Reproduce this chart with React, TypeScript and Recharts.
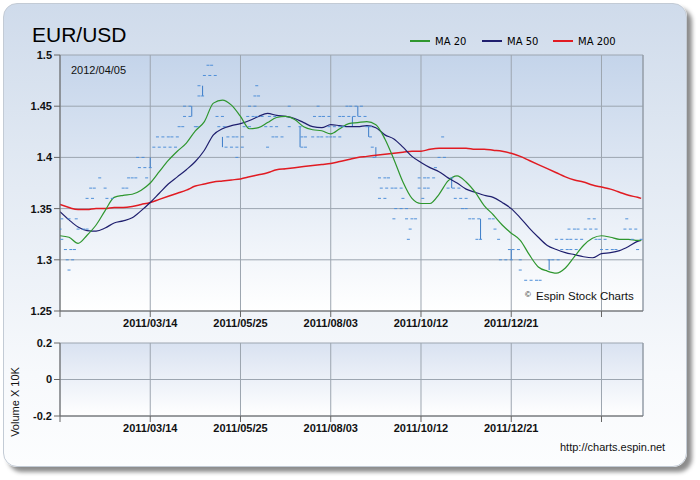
import React from 'react';
import { ComposedChart, Line, Scatter, ErrorBar, XAxis, YAxis, CartesianGrid, ReferenceLine } from 'recharts';

// trading-day index (0 = 2011/01/03), one sample every 5 days
const days = [0, 5, 10, 15, 20, 25, 30, 35, 40, 45, 50, 55, 60, 65, 70, 75, 80, 85, 90, 95, 100, 105, 110, 115, 120, 125, 130, 135, 140, 145, 150, 155, 160, 165, 170, 175, 180, 185, 190, 195, 200, 205, 210, 215, 220, 225, 230, 235, 240, 245, 250, 255, 260, 265, 270, 275, 280, 285, 290, 295, 300, 305, 310, 315, 320, 322];
const ma20 = [1.3235, 1.322, 1.316, 1.324, 1.334, 1.348, 1.361, 1.363, 1.364, 1.368, 1.375, 1.386, 1.397, 1.406, 1.414, 1.426, 1.435, 1.453, 1.456, 1.451, 1.44, 1.428, 1.429, 1.434, 1.439, 1.44, 1.437, 1.43, 1.427, 1.426, 1.423, 1.428, 1.433, 1.434, 1.435, 1.432, 1.418, 1.398, 1.376, 1.36, 1.355, 1.355, 1.364, 1.377, 1.382, 1.376, 1.366, 1.353, 1.344, 1.334, 1.326, 1.319, 1.305, 1.293, 1.289, 1.287, 1.292, 1.303, 1.314, 1.321, 1.3235, 1.322, 1.32, 1.32, 1.319, 1.319];
const ma50 = [1.347, 1.339, 1.332, 1.3285, 1.328, 1.331, 1.336, 1.338, 1.341, 1.348, 1.356, 1.365, 1.374, 1.381, 1.388, 1.396, 1.407, 1.422, 1.428, 1.431, 1.433, 1.436, 1.44, 1.443, 1.441, 1.44, 1.438, 1.434, 1.43, 1.429, 1.432, 1.431, 1.43, 1.43, 1.431, 1.429, 1.422, 1.418, 1.41, 1.401, 1.395, 1.39, 1.386, 1.38, 1.375, 1.369, 1.366, 1.363, 1.361, 1.356, 1.35, 1.341, 1.331, 1.322, 1.314, 1.31, 1.307, 1.305, 1.303, 1.302, 1.306, 1.307, 1.309, 1.313, 1.318, 1.319];
const ma200 = [1.354, 1.351, 1.349, 1.349, 1.35, 1.35, 1.351, 1.351, 1.352, 1.354, 1.356, 1.359, 1.362, 1.365, 1.368, 1.372, 1.374, 1.376, 1.377, 1.378, 1.379, 1.381, 1.383, 1.385, 1.388, 1.389, 1.39, 1.391, 1.392, 1.393, 1.394, 1.396, 1.398, 1.4, 1.401, 1.402, 1.403, 1.404, 1.405, 1.406, 1.406, 1.408, 1.409, 1.409, 1.409, 1.409, 1.408, 1.408, 1.407, 1.406, 1.404, 1.401, 1.397, 1.393, 1.389, 1.385, 1.381, 1.378, 1.376, 1.373, 1.371, 1.369, 1.366, 1.363, 1.361, 1.36];

// daily price ticks [day, price]
const priceMarks: [number, number][] = [
  [1, 1.34], [5, 1.34], [9, 1.34], [0, 1.33], [1, 1.32], [3, 1.31], [6, 1.31], [8, 1.31], [4, 1.3], [7, 1.3], [5, 1.29],
  [10, 1.33], [13, 1.33], [15, 1.33], [15, 1.36], [18, 1.36], [17, 1.37], [19, 1.37], [22, 1.38], [25, 1.37], [26, 1.36], [29, 1.36],
  [35, 1.37], [37, 1.37], [38, 1.38], [40, 1.38], [42, 1.38], [44, 1.39], [47, 1.39], [43, 1.4], [46, 1.4], [48, 1.38], [50, 1.39],
  [52, 1.41], [55, 1.41], [58, 1.41], [61, 1.41], [64, 1.41], [54, 1.42], [57, 1.42], [60, 1.42], [62, 1.42], [65, 1.42],
  [66, 1.43], [68, 1.43], [69, 1.44], [72, 1.44], [69, 1.45], [72, 1.45], [75, 1.43], [76, 1.43], [77, 1.46], [79, 1.46],
  [77, 1.47], [80, 1.48], [83, 1.48], [86, 1.48], [82, 1.49], [84, 1.49],
  [87, 1.44], [90, 1.44], [88, 1.43], [91, 1.43], [93, 1.42], [96, 1.42], [98, 1.42], [101, 1.42], [92, 1.41], [95, 1.41], [98, 1.41], [101, 1.41], [98, 1.4],
  [102, 1.43], [105, 1.43], [104, 1.44], [107, 1.44], [109, 1.44], [112, 1.44], [105, 1.45], [108, 1.45], [108, 1.46], [110, 1.46], [109, 1.47],
  [114, 1.43], [117, 1.43], [120, 1.43], [116, 1.44], [119, 1.44], [115, 1.41], [118, 1.42], [120, 1.42], [123, 1.42], [127, 1.45], [127, 1.43],
  [133, 1.43], [134, 1.42], [136, 1.42], [134, 1.41], [136, 1.41],
  [141, 1.44], [144, 1.44], [146, 1.44], [149, 1.44], [143, 1.45], [140, 1.42], [143, 1.42], [145, 1.42], [148, 1.42],
  [149, 1.43], [152, 1.43], [155, 1.43], [157, 1.43], [150, 1.42], [152, 1.42], [155, 1.42], [155, 1.44], [157, 1.44],
  [160, 1.44], [163, 1.44], [166, 1.44], [169, 1.44], [159, 1.45], [161, 1.45], [164, 1.45], [167, 1.45],
  [170, 1.43], [172, 1.43], [172, 1.42], [173, 1.41], [174, 1.4],
  [177, 1.38], [180, 1.38], [182, 1.38], [178, 1.37], [181, 1.37], [184, 1.37], [186, 1.37], [189, 1.37], [177, 1.36], [180, 1.36], [190, 1.36],
  [186, 1.35], [189, 1.35], [192, 1.35], [185, 1.34], [192, 1.34], [195, 1.34], [197, 1.34], [194, 1.33], [193, 1.32],
  [199, 1.38], [202, 1.38], [204, 1.38], [207, 1.38], [199, 1.37], [202, 1.37], [204, 1.37], [201, 1.36], [208, 1.39], [210, 1.4], [213, 1.4], [212, 1.42],
  [215, 1.37], [218, 1.37], [221, 1.37], [217, 1.38], [219, 1.36], [222, 1.36], [225, 1.36], [223, 1.35], [225, 1.35],
  [227, 1.34], [229, 1.34], [232, 1.34], [231, 1.32], [233, 1.32], [238, 1.34], [240, 1.34], [241, 1.33], [243, 1.32],
  [244, 1.3], [247, 1.3], [250, 1.3], [249, 1.31], [251, 1.31], [254, 1.31], [255, 1.3], [255, 1.29],
  [258, 1.28], [261, 1.28], [264, 1.28], [266, 1.28], [271, 1.3], [273, 1.3], [276, 1.3],
  [278, 1.31], [281, 1.31], [283, 1.31], [286, 1.31], [275, 1.32], [278, 1.32], [281, 1.32], [283, 1.32], [286, 1.32], [289, 1.32],
  [282, 1.33], [285, 1.33], [287, 1.33], [291, 1.33], [294, 1.33], [297, 1.33], [293, 1.34], [296, 1.34],
  [297, 1.32], [299, 1.32], [302, 1.32], [300, 1.31], [303, 1.31], [306, 1.31], [308, 1.31],
  [313, 1.33], [316, 1.33], [319, 1.33], [314, 1.34], [317, 1.32], [320, 1.31], [322, 1.32],
];

// high/low bars [day, low, high]
const rangeBars: [number, number, number][] = [
  [50, 1.39, 1.4], [73, 1.44, 1.45], [79, 1.46, 1.47], [90, 1.41, 1.42], [133, 1.41, 1.43], [162, 1.43, 1.44],
  [165, 1.44, 1.45], [171, 1.42, 1.43], [175, 1.4, 1.41], [217, 1.37, 1.38], [233, 1.32, 1.34], [250, 1.3, 1.31], [271, 1.29, 1.3],
];

const dateTicks = [0, 50, 100, 150, 200, 250, 300];
const dateLabels = ['', '2011/03/14', '2011/05/25', '2011/08/03', '2011/10/12', '2011/12/21', ''];
const priceTicks = [1.25, 1.3, 1.35, 1.4, 1.45, 1.5];
const volumeTicks = [-0.2, 0, 0.2];
const volumeDays = [0, 323];

const maData = days.map((d, i) => ({ day: d, ma20: ma20[i], ma50: ma50[i], ma200: ma200[i] }));
const markData = priceMarks.map(([day, price]) => ({ day, price }));
const barData = rangeBars.map(([day, lo, hi]) => ({ day, mid: (lo + hi) / 2, err: [(hi - lo) / 2, (hi - lo) / 2] }));
const volumeData = volumeDays.map(d => ({ day: d, volume: null }));

const tickFont = { fill: '#111', fontSize: 11, fontWeight: 'bold', fontFamily: 'Liberation Sans, Arial, sans-serif' };
const axisStroke = '#666';
const gridStroke = '#9ca5b0';
const fmtDate = (v: number) => dateLabels[dateTicks.indexOf(v)] ?? '';

const Dash = (p: any) => (
  <line x1={p.cx - 1.5} x2={p.cx + 1.5} y1={p.cy} y2={p.cy} stroke="#4f8fd8" strokeWidth={1} />
);

export default function App() {
  return (
    <div style={{ position: 'absolute', left: 0, top: 0, width: 700, height: 480, background: '#fff', fontFamily: 'Liberation Sans, Arial, sans-serif' }}>
      <div style={{
        position: 'absolute', left: 3, top: 3, width: 682, height: 462, borderRadius: 14,
        background: 'linear-gradient(180deg, #cfdbeb 0%, #e4ebf4 40%, #f7f9fc 80%, #fcfdfe 100%)',
        border: '1px solid #c3cbd5', boxShadow: '5px 5px 4px rgba(0,0,0,0.45)',
      }} />

      <div style={{ position: 'absolute', left: 0, top: 0 }}>
        <ComposedChart width={700} height={341} data={maData} margin={{ top: 55, right: 57, bottom: 0, left: 0 }}>
          <defs>
            <linearGradient id="plotBg" x1="0" y1="0" x2="0" y2="1">
              <stop offset="0%" stopColor="#c4d4ea" />
              <stop offset="100%" stopColor="#ffffff" />
            </linearGradient>
          </defs>
          <CartesianGrid stroke={gridStroke} fill="url(#plotBg)" fillOpacity={1} />
          <XAxis dataKey="day" type="number" domain={[0, 323]} ticks={dateTicks} tickFormatter={fmtDate}
            height={30} tick={tickFont} axisLine={{ stroke: axisStroke }} tickLine={{ stroke: axisStroke }} allowDataOverflow interval={0} />
          <YAxis type="number" domain={[1.25, 1.5]} ticks={priceTicks} width={60} tick={tickFont}
            axisLine={{ stroke: axisStroke }} tickLine={{ stroke: axisStroke }} allowDataOverflow interval={0} />
          <ReferenceLine x={323} stroke="#8f98a3" />
          <Scatter data={markData} dataKey="price" shape={Dash} isAnimationActive={false} />
          <Scatter data={barData} dataKey="mid" shape={() => <g />} isAnimationActive={false}>
            <ErrorBar dataKey="err" direction="y" width={0} stroke="#3b7cc8" strokeWidth={1} isAnimationActive={false} />
          </Scatter>
          <Line type="monotone" dataKey="ma200" stroke="#e11b22" strokeWidth={1.5} dot={false} isAnimationActive={false} />
          <Line type="monotone" dataKey="ma50" stroke="#1f1f6e" strokeWidth={1.2} dot={false} isAnimationActive={false} />
          <Line type="monotone" dataKey="ma20" stroke="#2e962e" strokeWidth={1.2} dot={false} isAnimationActive={false} />
        </ComposedChart>
      </div>

      <div style={{ position: 'absolute', left: 0, top: 313 }}>
        <ComposedChart width={700} height={133} data={volumeData} margin={{ top: 30, right: 57, bottom: 0, left: 0 }}>
          <defs>
            <linearGradient id="volBg" x1="0" y1="0" x2="0" y2="1">
              <stop offset="0%" stopColor="#d9e2f1" />
              <stop offset="100%" stopColor="#ffffff" />
            </linearGradient>
          </defs>
          <CartesianGrid stroke={gridStroke} fill="url(#volBg)" fillOpacity={1} />
          <XAxis dataKey="day" type="number" domain={[0, 323]} ticks={dateTicks} tickFormatter={fmtDate}
            height={30} tick={tickFont} axisLine={{ stroke: axisStroke }} tickLine={{ stroke: axisStroke }} allowDataOverflow interval={0} />
          <YAxis type="number" domain={[-0.2, 0.2]} ticks={volumeTicks} width={60} tick={tickFont}
            axisLine={{ stroke: axisStroke }} tickLine={{ stroke: axisStroke }} allowDataOverflow interval={0} />
          <ReferenceLine x={323} stroke="#8f98a3" />
          <Line dataKey="volume" stroke="none" dot={false} isAnimationActive={false} />
        </ComposedChart>
      </div>

      <svg width={700} height={480} style={{ position: 'absolute', left: 0, top: 0, pointerEvents: 'none' }}>
        <text x={32} y={42} fontSize={21} fill="#000" fontFamily="Liberation Sans, Arial, sans-serif">EUR/USD</text>
        <text x={71} y={74} fontSize={11} fill="#111" fontFamily="Liberation Sans, Arial, sans-serif">2012/04/05</text>

        <line x1={410} x2={430} y1={41} y2={41} stroke="#2e962e" strokeWidth={2} />
        <text x={435} y={45} fontSize={10} fill="#000" fontFamily="DejaVu Sans, sans-serif">MA 20</text>
        <line x1={482} x2={502} y1={41} y2={41} stroke="#1f1f6e" strokeWidth={2} />
        <text x={507} y={45} fontSize={10} fill="#000" fontFamily="DejaVu Sans, sans-serif">MA 50</text>
        <line x1={553} x2={573} y1={41} y2={41} stroke="#e11b22" strokeWidth={2} />
        <text x={578} y={45} fontSize={10} fill="#000" fontFamily="DejaVu Sans, sans-serif">MA 200</text>

        <text x={525} y={297} fontSize={8} fill="#111" fontFamily="Liberation Sans, Arial, sans-serif">©</text>
        <text x={536} y={300} fontSize={11.5} fill="#111" fontFamily="Liberation Sans, Arial, sans-serif">Espin Stock Charts</text>
        <text x={560} y={451} fontSize={11} fill="#111" fontFamily="Liberation Sans, Arial, sans-serif">http://charts.espin.net</text>
        <text x={0} y={0} fontSize={11} fill="#111" textAnchor="middle" fontFamily="Liberation Sans, Arial, sans-serif"
          transform="translate(19 402) rotate(-90)">Volume X 10K</text>
      </svg>
    </div>
  );
}
